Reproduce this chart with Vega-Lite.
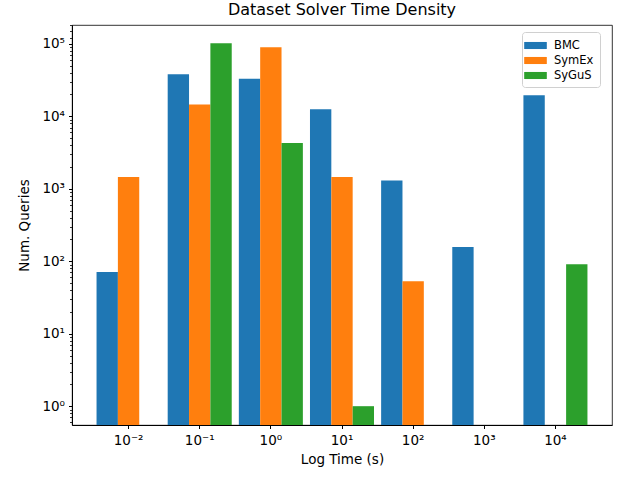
{
  "$schema": "https://vega.github.io/schema/vega-lite/v6.json",
  "width": 540,
  "height": 400,
  "autosize": {"type": "none"},
  "padding": {"left": 72, "top": 25, "right": 6, "bottom": 55},
  "background": "white",
  "title": {"text": "Dataset Solver Time Density", "font": "DejaVu Sans", "fontSize": 16, "fontWeight": "normal", "color": "black", "offset": 7},
  "config": {
    "view": {"stroke": "black", "strokeWidth": 0.8},
    "axis": {"labelFont": "DejaVu Sans", "titleFont": "DejaVu Sans", "labelFontSize": 13.5, "titleFontSize": 13.5, "titleFontWeight": "normal", "labelColor": "black", "titleColor": "black", "domainColor": "black", "tickColor": "black", "grid": false}
  },
  "data": {"values": [
    {"bin": "10⁻²", "series": "BMC", "count": 71},
    {"bin": "10⁻²", "series": "SymEx", "count": 1450},
    {"bin": "10⁻¹", "series": "BMC", "count": 38000},
    {"bin": "10⁻¹", "series": "SymEx", "count": 14500},
    {"bin": "10⁻¹", "series": "SyGuS", "count": 102000},
    {"bin": "10⁰", "series": "BMC", "count": 33000},
    {"bin": "10⁰", "series": "SymEx", "count": 90000},
    {"bin": "10⁰", "series": "SyGuS", "count": 4300},
    {"bin": "10¹", "series": "BMC", "count": 12500},
    {"bin": "10¹", "series": "SymEx", "count": 1450},
    {"bin": "10¹", "series": "SyGuS", "count": 1},
    {"bin": "10²", "series": "BMC", "count": 1300},
    {"bin": "10²", "series": "SymEx", "count": 53},
    {"bin": "10³", "series": "BMC", "count": 157},
    {"bin": "10⁴", "series": "BMC", "count": 19500},
    {"bin": "10⁴", "series": "SyGuS", "count": 91}
  ]},
  "resolve": {"axis": {"y": "independent"}},
  "layer": [
    {
      "mark": {"type": "bar"},
      "encoding": {
        "x": {"field": "bin", "type": "ordinal", "sort": null,
              "scale": {"paddingInner": 0.1, "paddingOuter": 0.345},
              "axis": {"title": "Log Time (s)", "labelAngle": 0, "tickSize": 3.5, "labelPadding": 5, "titlePadding": 5}},
        "xOffset": {"field": "series", "type": "nominal", "scale": {"domain": ["BMC", "SymEx", "SyGuS"], "paddingInner": 0, "paddingOuter": 0}},
        "y": {"field": "count", "type": "quantitative",
              "scale": {"type": "log", "domain": [0.55, 182000], "nice": false, "clamp": true},
              "axis": {"orient": "left", "title": "Num. Queries", "values": [1, 10, 100, 1000, 10000, 100000], "tickSize": 3.5, "labelPadding": 4, "titlePadding": 10,
                       "labelExpr": "datum.value == 1 ? '10⁰' : datum.value == 10 ? '10¹' : datum.value == 100 ? '10²' : datum.value == 1000 ? '10³' : datum.value == 10000 ? '10⁴' : '10⁵'"}},
        "color": {"field": "series", "type": "nominal",
                  "scale": {"domain": ["BMC", "SymEx", "SyGuS"], "range": ["#1f77b4", "#ff7f0e", "#2ca02c"]},
                  "legend": {"title": null, "orient": "none", "legendX": 450, "legendY": 7, "labelFont": "DejaVu Sans", "labelFontSize": 11.5, "labelColor": "black",
                             "symbolType": "M-1.6,-0.5H1.6V0.5H-1.6Z", "symbolSize": 200, "symbolStrokeWidth": 0, "symbolOpacity": 1, "labelOffset": 11,
                             "fillColor": "white", "strokeColor": "#d0d0d0", "cornerRadius": 3, "padding": 6, "rowPadding": 2}}
      }
    },
    {
      "mark": {"type": "bar", "opacity": 0},
      "encoding": {
        "x": {"field": "bin", "type": "ordinal", "sort": null,
              "scale": {"paddingInner": 0.1, "paddingOuter": 0.345},
              "axis": {"title": "Log Time (s)", "labelAngle": 0, "tickSize": 3.5, "labelPadding": 5, "titlePadding": 5}},
        "xOffset": {"field": "series", "type": "nominal", "scale": {"domain": ["BMC", "SymEx", "SyGuS"], "paddingInner": 0, "paddingOuter": 0}},
        "y": {"field": "count", "type": "quantitative",
              "scale": {"type": "log", "domain": [0.55, 182000], "nice": false, "clamp": true},
              "axis": {"orient": "left", "title": null, "labels": false, "domain": false, "ticks": true, "tickSize": 2.5, "tickWidth": 0.8, "offset": 0,
                       "values": [0.6,0.7,0.8,0.9,2,3,4,5,6,7,8,9,20,30,40,50,60,70,80,90,200,300,400,500,600,700,800,900,2000,3000,4000,5000,6000,7000,8000,9000,20000,30000,40000,50000,60000,70000,80000,90000,120000,150000,180000]}}
      }
    }
  ]
}
